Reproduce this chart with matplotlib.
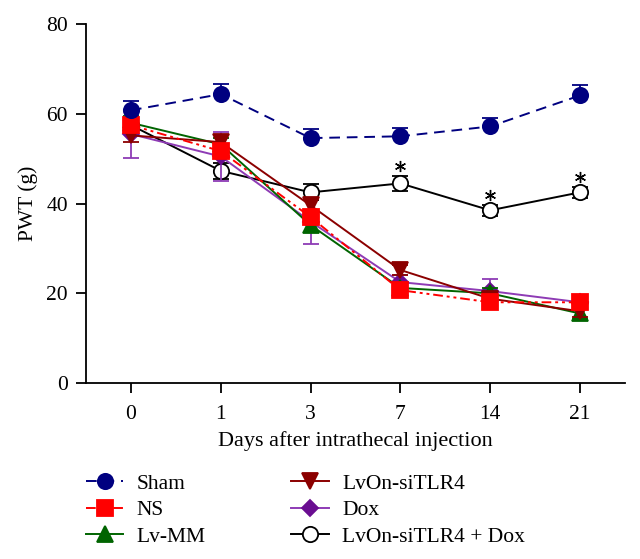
import matplotlib
matplotlib.use("Agg")
import matplotlib.pyplot as plt

plt.rcParams['font.family'] = ['Liberation Serif', 'DejaVu Serif']

# データ
days = ['0', '1', '3', '7', '14', '21']

sham = [60.8, 64.4, 54.6, 55.0, 57.2, 64.1]
sham_err = [2.0, 2.2, 2.0, 1.8, 1.8, 2.4]
ns = [57.5, 51.7, 37.0, 20.7, 18.0, 18.0]
ns_err = [1.5, 1.5, 1.5, 1.2, 1.2, 1.2]
lv_mm = [58.0, 53.2, 35.2, 21.2, 20.0, 15.5]
lv_mm_err = [1.5, 1.5, 1.5, 1.2, 1.2, 1.2]
lvon = [55.2, 53.7, 39.6, 25.2, 18.8, 16.0]
lvon_err = [1.5, 1.5, 1.5, 1.2, 1.2, 1.2]
dox = [55.5, 50.5, 36.0, 22.5, 20.5, 18.0]
dox_err = [5.4, 5.4, 5.0, 1.5, 2.7, 1.2]
combo = [57.5, 47.3, 42.5, 44.5, 38.5, 42.5]
combo_err = [1.5, 1.8, 1.8, 1.7, 1.2, 1.2]

star_days = ['7', '14', '21']

fig = plt.figure(figsize=(6.4, 5.59), dpi=100)
ax = fig.add_axes([0.1344, 0.3148, 0.842, 0.642])

x = list(range(len(days)))

# 各グループのスタイル (凡例の順番)
series = [
    ('Sham', sham, sham_err, '#000080', (0, (5.5, 3.5)), 'o', '#000080', '#000080', 11, 7),
    ('NS', ns, ns_err, '#ff0000', (0, (5, 2, 1.5, 2, 1.5, 2)), 's', '#ff0000', '#ff0000', 11, 6),
    ('Lv-MM', lv_mm, lv_mm_err, '#006400', '-', '^', '#006400', '#006400', 11, 4),
    ('LvOn-siTLR4', lvon, lvon_err, '#8b0000', '-', 'v', '#8b0000', '#8b0000', 11, 5),
    ('Dox', dox, dox_err, '#8e3bb5', '-', 'D', '#6a0d91', '#6a0d91', 8.5, 3),
    ('LvOn-siTLR4 + Dox', combo, combo_err, 'black', '-', 'o', 'white', 'black', 11, 2),
]

handles = []
for name, y, err, col, ls, mk, mfc, mec, ms, z in series:
    if name == 'Sham':
        yerr = [[0] * len(err), err]   # Shamは上側のみ
    else:
        yerr = err
    ax.errorbar(x, y, yerr=yerr, fmt='none', ecolor=col, elinewidth=1.3,
                capsize=6, capthick=1.3, zorder=z)
    h, = ax.plot(x, y, color=col, linestyle=ls, linewidth=1.4, marker=mk,
                 markersize=ms, markerfacecolor=mfc, markeredgecolor=mec,
                 markeredgewidth=1.3, label=name, zorder=z)
    handles.append(h)

# 有意差の印
for d in star_days:
    i = days.index(d)
    ax.plot(i, combo[i] + combo_err[i] + 2.2, marker=(6, 2, 0), color='black',
            markersize=8, markeredgewidth=1.0, linestyle='none', zorder=8)

ax.set_xlim(-0.5, 5.5)
ax.set_ylim(0, 80)
ax.set_xticks(x)
ax.set_xticklabels(days)
ax.set_yticks([0, 20, 40, 60, 80])
ax.spines['top'].set_visible(False)
ax.spines['right'].set_visible(False)
for s in ['left', 'bottom']:
    ax.spines[s].set_linewidth(1.3)
ax.tick_params(direction='out', length=7, width=1.3, labelsize=15.5)
ax.tick_params(axis='x', pad=9)
ax.tick_params(axis='y', pad=6)
ax.set_xlabel('Days after intrathecal injection', fontsize=16, labelpad=5)
ax.set_ylabel('PWT (g)', fontsize=15.5, labelpad=6)

fig.legend(handles=handles, ncol=2, loc='upper left',
           bbox_to_anchor=(0.134, 0.153), frameon=False, fontsize=15.5,
           handlelength=1.75, handletextpad=0.6, columnspacing=4.0,
           labelspacing=0.3, borderpad=0, borderaxespad=0)

fig.savefig('out.png', dpi=100)
